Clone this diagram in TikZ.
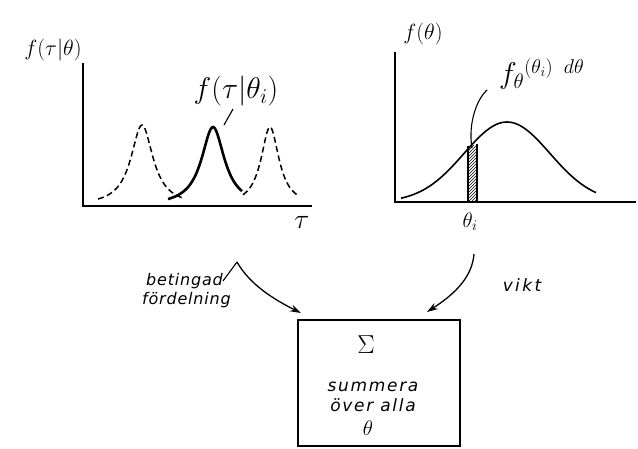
\RequirePackage{fix-cm}
\documentclass[tikz,border=0pt]{standalone}
\usepackage{fontspec}
\newfontfamily\hand[LetterSpace=5]{DejaVu Sans}
\newfontfamily\handw[LetterSpace=10]{DejaVu Sans}
\newfontfamily\handv[LetterSpace=14]{DejaVu Sans}
\usetikzlibrary{arrows.meta,patterns}
\begin{document}
\begin{tikzpicture}[x=1pt,y=-1pt,
 axis/.style={line width=1.5pt},
 peakd/.style={line width=1.5pt, dash pattern=on 6pt off 3.5pt},
 peaks/.style={line width=2.6pt},
 curve/.style={line width=1.6pt},
 lbl/.style={inner sep=0pt, font=\fontsize{16}{18}\selectfont\hand\itshape},
 boxlbl/.style={inner sep=0pt, font=\fontsize{17}{19}\selectfont\handw\itshape},
 mlbl/.style={inner sep=0pt, font=\fontsize{22}{24}\selectfont},
 conn/.style={line width=1.3pt, -{Stealth[length=11pt,width=7pt]}},
 lead/.style={line width=1.1pt}]
\useasboundingbox (0,0) rectangle (638,448);
\fill[white] (0,0) rectangle (638,448);

% ---------- left plot ----------
\coordinate (LY) at (83,63);
\coordinate (LO) at (83,206);
\coordinate (LX) at (312,206);
\draw[axis] (LY) -- (LO) -- (LX);
\draw[peakd] plot[domain=98:182, samples=60, smooth] (\x,{206-81/(1+((\x-142)/13.5)^2)});
\draw[peaks] plot[domain=168:242, samples=60, smooth] (\x,{206-79/(1+((\x-213)/14)^2)});
\draw[peakd] plot[domain=243:297, samples=60, smooth] (\x,{206-79/(1+((\x-270)/11)^2)});

\node[mlbl] (lf) at (53,50) {$f(\tau|\theta)$};
\node[mlbl, font=\fontsize{30}{32}\selectfont] (lfi) at (236,91) {$f(\tau|\theta_i)$};
\node[mlbl, font=\fontsize{28}{30}\selectfont] (tau) at (302,222) {$\tau$};
\coordinate (lfiend) at (224,125);
\draw[lead] (lfiend) -- (233,109);

% ---------- right plot ----------
\coordinate (RY) at (395,52);
\coordinate (RO) at (395,202);
\coordinate (RX) at (636,202);
\draw[axis] (RY) -- (RO) -- (RX);
\draw[curve] plot[domain=401:596, samples=80, smooth] (\x,{202-80*exp(-((\x-507)^2)/3700)});
\fill[pattern=north east lines] (468,202) rectangle (477,145);
\draw[line width=1.2pt] (468,202) -- (468,146) (477,202) -- (477,144);

\node[mlbl, font=\fontsize{22}{24}\selectfont] (ft) at (423,34) {$f(\theta)$};
\node[mlbl, font=\fontsize{30}{32}\selectfont, anchor=west] (fw) at (499,74) {$f_{\theta}$\raisebox{10pt}{\fontsize{20}{22}\selectfont$(\theta_i)\;\;d\theta$}};
\node[mlbl, font=\fontsize{21}{23}\selectfont] (thi) at (470,222) {$\theta_i$};
\coordinate (fwend) at (472,148);
\draw[lead] (487,90) .. controls (476,100) and (468,125) .. (fwend);

% ---------- sum box ----------
\node[draw, line width=1.4pt, minimum width=162pt, minimum height=126pt, inner sep=0pt] (sum) at (379,383) {};
\node[inner sep=0pt, font=\fontsize{26}{28}\selectfont] (sig) at (366,345) {$\Sigma$};
\node[boxlbl] (s1) at (373,387) {summera};
\node[boxlbl] (s2) at (373,405) {över alla};
\node[mlbl, font=\fontsize{21}{23}\selectfont] (s3) at (368,428) {$\theta$};

% ---------- labels and arrows ----------
\node[lbl, anchor=west] (bet) at (146,281) {betingad};
\node[lbl, anchor=west] (ford) at (142,300) {fördelning};
\node[lbl, font=\fontsize{17}{19}\selectfont\handv\itshape] (vikt) at (522,285) {vikt};

\coordinate (betpeak) at (237,262);
\coordinate (lefttip) at (301,313);
\coordinate (rightstart) at (474,254);
\coordinate (righttip) at (427,312);
\draw[lead] (bet.east) -- (betpeak);
\draw[conn] (betpeak) .. controls (250,285) and (275,300) .. (lefttip);
\draw[conn] (rightstart) .. controls (472,280) and (450,297) .. (righttip);
\end{tikzpicture}
\end{document}
